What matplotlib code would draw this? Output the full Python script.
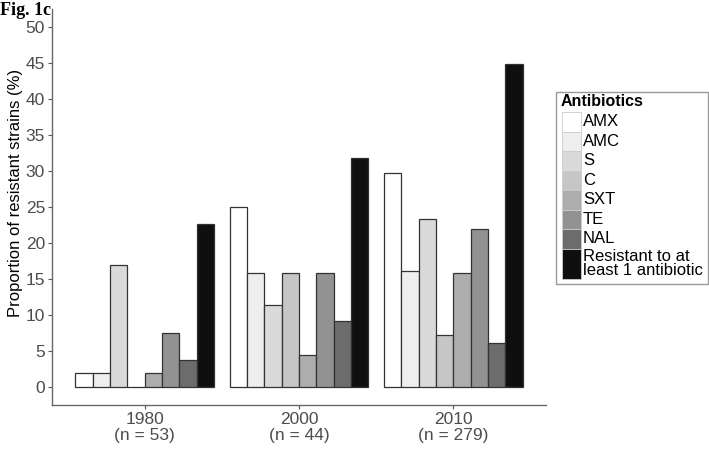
import numpy as np
import matplotlib.pyplot as plt
from matplotlib.patches import Rectangle

plt.rcParams['font.family'] = ['Liberation Sans', 'DejaVu Sans']

years = ['1980\n(n = 53)', '2000\n(n = 44)', '2010\n(n = 279)']
antibiotics = ['AMX', 'AMC', 'S', 'C', 'SXT', 'TE', 'NAL', 'Resistant to at\nleast 1 antibiotic']
colors = ['#FFFFFF', '#EEEEEE', '#DADADA', '#C6C6C6', '#ADADAD', '#929292', '#6C6C6C', '#0F0F0F']

# proportion of resistant strains (%) per antibiotic, one list per year
amx = [1.9, 25.0, 29.7]
amc = [1.9, 15.9, 16.1]
s = [17.0, 11.4, 23.3]
c = [0.0, 15.9, 7.2]
sxt = [1.9, 4.5, 15.8]
te = [7.5, 15.9, 21.9]
nal = [3.8, 9.1, 6.1]
res_any = [22.6, 31.8, 44.8]
series = [amx, amc, s, c, sxt, te, nal, res_any]

W, H = 709, 451
fig = plt.figure(figsize=(W / 100, H / 100), dpi=100)
ax = fig.add_axes([52 / W, 1 - 405 / H, 494 / W, 396 / H])

x = np.arange(1, len(years) + 1)
bw = 0.9 / len(series)
for i, (vals, col) in enumerate(zip(series, colors)):
    ax.bar(x + (i - 3.5) * bw, vals, width=bw, color=col,
           edgecolor='#333333', linewidth=0.9)

ax.set_xlim(0.4, 3.6)
ax.set_ylim(-2.5, 52.5)
ax.set_yticks(np.arange(0, 51, 5))
ax.set_xticks(x)
ax.set_xticklabels(years)
for lbl in ax.get_xticklabels():
    lbl.set_linespacing(1.1)
ax.tick_params(colors='#555555', labelcolor='#4D4D4D', labelsize=12.5, length=3, pad=2)
for side in ['top', 'right']:
    ax.spines[side].set_visible(False)
for side in ['left', 'bottom']:
    ax.spines[side].set_color('#666666')
    ax.spines[side].set_linewidth(1.0)
ax.set_ylabel('Proportion of resistant strains (%)', fontsize=12)
ax.yaxis.set_label_coords(-0.058, (405 - 193) / 396)

fig.text(0, 1 - 2 / H, 'Fig. 1c', family='Liberation Serif', weight='bold',
         fontsize=13, va='top', ha='left')

# legend drawn in pixel coordinates
lg = fig.add_axes([0, 0, 1, 1], facecolor='none')
lg.set_xlim(0, W)
lg.set_ylim(H, 0)
lg.axis('off')
lg.add_patch(Rectangle((556, 92), 152, 192, facecolor='white', edgecolor='#999999', lw=1))
lg.text(561, 102, 'Antibiotics', weight='bold', fontsize=11.5, va='center', ha='left')
y0 = 112
for lab, col in zip(antibiotics, colors):
    h = 30 if '\n' in lab else 19.5
    lg.add_patch(Rectangle((562, y0), 19, h, facecolor=col, edgecolor='#CCCCCC', lw=0.6))
    lg.text(583, y0 + h / 2, lab, fontsize=12, va='center', ha='left', linespacing=0.9)
    y0 += h

fig.savefig('out.png', dpi=100)
